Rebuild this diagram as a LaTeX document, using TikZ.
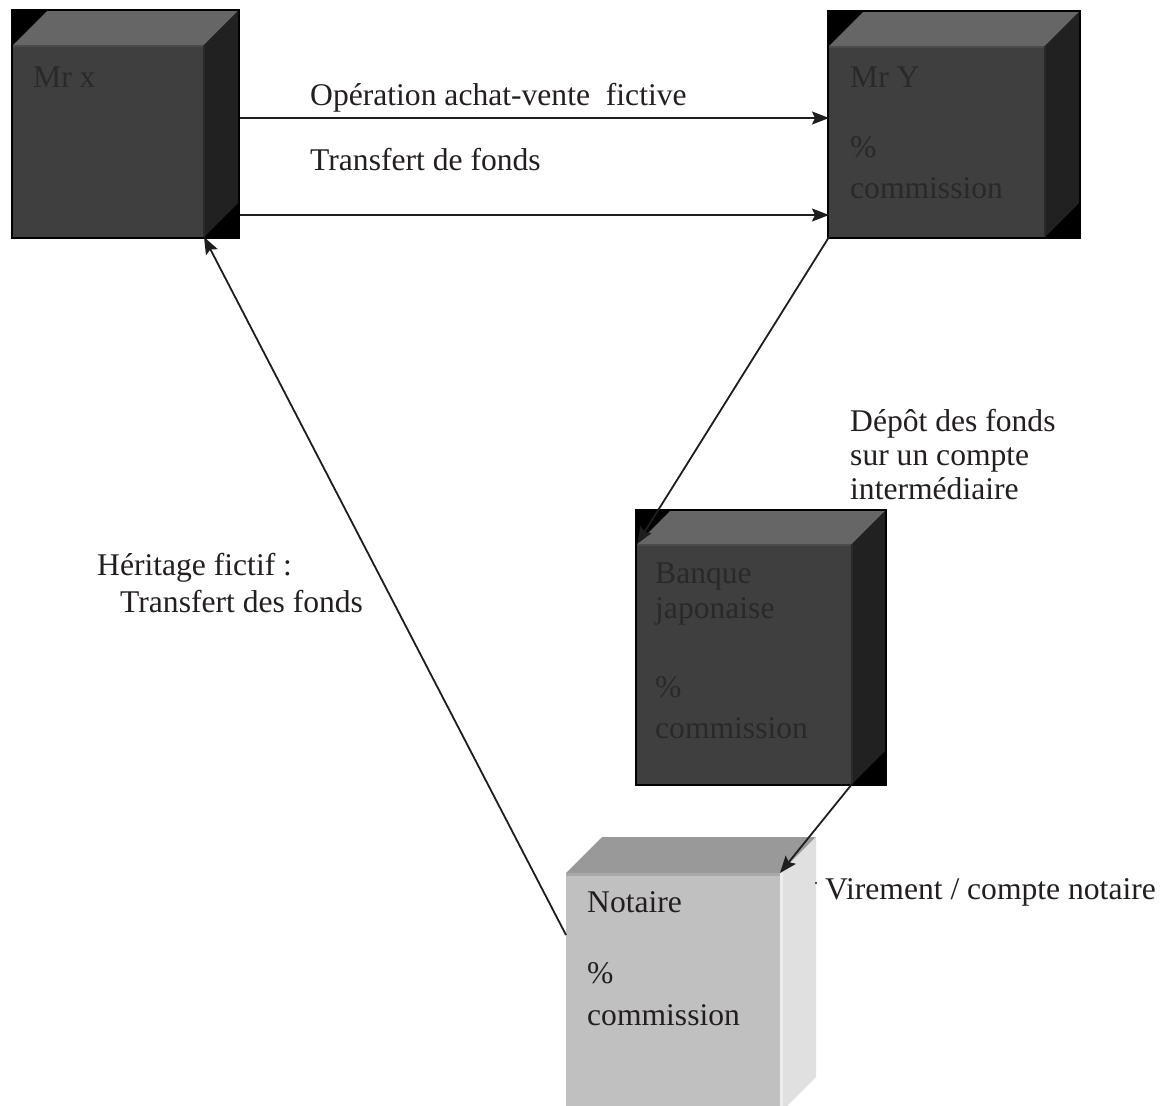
\documentclass[tikz,border=0pt]{standalone}
\usepackage{fontspec}
\setmainfont{Liberation Serif}
\usetikzlibrary{arrows.meta,calc}

\definecolor{frontdark}{HTML}{3F3F3F}
\definecolor{topdark}{HTML}{666666}
\definecolor{sidedark}{HTML}{212121}
\definecolor{edgedark}{HTML}{4B4B4B}
\definecolor{seamdark}{HTML}{2A2A2A}
\definecolor{textdark}{HTML}{2B2828}
\definecolor{frontlight}{HTML}{C0C0C0}
\definecolor{toplight}{HTML}{999999}
\definecolor{edgelight}{HTML}{A9A9A9}
\definecolor{sidelight}{HTML}{E0E0E0}
\definecolor{seamlight}{HTML}{EEEEEE}
\definecolor{inkline}{HTML}{1E1E1E}
\definecolor{inktext}{HTML}{231F20}

\tikzset{
  face/.style={inner sep=0pt, outer sep=0pt, draw=none, anchor=north west},
  conn/.style={draw=inkline, line width=1.8pt,
    -{Stealth[length=17pt,width=13pt,inset=3pt]}},
  lbl/.style={anchor=base west, inner sep=0pt,
    font=\fontsize{31.6}{36}\selectfont, text=inktext},
  boxtxt/.style={lbl, text=textdark},
  notetxt/.style={lbl, text=inktext},
}

% top and right faces of a cube whose front face is node #1, depth #2
\newcommand{\cubefaces}[4]{%
  \fill[#3] (#1.north west) -- ++(#2,-#2) -- ($(#1.north east)+(#2,-#2)$)
    -- (#1.north east) -- cycle;
  \fill[#4] (#1.north east) -- ++(#2,-#2) -- ($(#1.south east)+(#2,-#2)$)
    -- (#1.south east) -- cycle;
}

\begin{document}
\begin{tikzpicture}[x=1pt,y=-1pt]
\useasboundingbox (0,0) rectangle (1168,1106);
\clip (0,0) rectangle (1168,1106);
\fill[white] (0,0) rectangle (1168,1106);

% ---- Mr x
\node[face, fill=black, minimum width=229pt, minimum height=230pt] (mrxo) at (11,9) {};
\node[face, fill=frontdark, minimum width=191pt, minimum height=192pt] (mrx) at (13,45) {};
\cubefaces{mrx}{34}{topdark}{sidedark}
\draw[edgedark, line width=2pt] ([yshift=-1pt]mrx.north west) -- ([yshift=-1pt]mrx.north east);
\draw[seamdark, line width=1.5pt] (mrx.north east) -- (mrx.south east);
\node[boxtxt] (mrxname) at (33,87) {Mr x};

% ---- Mr Y
\node[face, fill=black, minimum width=254pt, minimum height=229pt] (mryo) at (827,10) {};
\node[face, fill=frontdark, minimum width=216pt, minimum height=191pt] (mry) at (829,46) {};
\cubefaces{mry}{34}{topdark}{sidedark}
\draw[edgedark, line width=2pt] ([yshift=-1pt]mry.north west) -- ([yshift=-1pt]mry.north east);
\draw[seamdark, line width=1.5pt] (mry.north east) -- (mry.south east);
\node[boxtxt] (mryname) at (850,87) {Mr Y};
\node[boxtxt] (mrypct) at (850,157) {\%};
\node[boxtxt] (mrycom) at (850,198) {commission};

% ---- Banque japonaise
\node[face, fill=black, minimum width=252pt, minimum height=277pt] (banko) at (635,509) {};
\node[face, fill=frontdark, minimum width=215pt, minimum height=240pt] (bank) at (637,544) {};
\cubefaces{bank}{33}{topdark}{sidedark}
\draw[edgedark, line width=2pt] ([yshift=-1pt]bank.north west) -- ([yshift=-1pt]bank.north east);
\draw[seamdark, line width=1.5pt] (bank.north east) -- (bank.south east);
\node[boxtxt] (bankname) at (655,583) {Banque};
\node[boxtxt] (bankname2) at (655,618) {japonaise};
\node[boxtxt] (bankpct) at (655,697) {\%};
\node[boxtxt] (bankcom) at (655,738) {commission};

% ---- Notaire
\node[face, fill=frontlight, minimum width=214pt, minimum height=240pt] (notr) at (566,873) {};
\cubefaces{notr}{36}{toplight}{sidelight}
\draw[edgelight, line width=3pt] ([yshift=-1.5pt]notr.north west) -- ([yshift=-1.5pt]notr.north east);
\draw[seamlight, line width=3pt] ([xshift=1.5pt]notr.north east) -- ([xshift=1.5pt]notr.south east);
\node[notetxt] (notrname) at (587,912) {Notaire};
\node[notetxt] (notrpct) at (587,983) {\%};
\node[notetxt] (notrcom) at (587,1025) {commission};

% ---- connector labels
\node[lbl] (lblop) at (310,105) {Opération achat-vente\ \ fictive};
\node[lbl] (lbltf) at (310,170) {Transfert de fonds};
\node[lbl] (lbldep1) at (850,431) {Dépôt des fonds};
\node[lbl] (lbldep2) at (850,465) {sur un compte};
\node[lbl] (lbldep3) at (850,499) {intermédiaire};
\node[lbl] (lblher1) at (97,575) {Héritage fictif :};
\node[lbl] (lblher2) at (120,612) {Transfert des fonds};
\node[lbl] (lblvir) at (825,899) {Virement / compte notaire};
\fill[inkline] (lblvir.base west) ++(-9,-16) circle (1.2pt);

% ---- connectors
\coordinate (lvlA) at (0,118);
\coordinate (lvlB) at (0,215);
\coordinate (lvlC) at (0,935);
\draw[conn] (mrxo.east |- lvlA) -- (mry.west |- lvlA);
\draw[conn] (mrxo.east |- lvlB) -- (mry.west |- lvlB);
\draw[conn] (mry.south west) -- (bank.north west);
\draw[conn] (bank.south east) -- (notr.north east);
\draw[conn] (notr.west |- lvlC) -- (mrx.south east);
\end{tikzpicture}
\end{document}
